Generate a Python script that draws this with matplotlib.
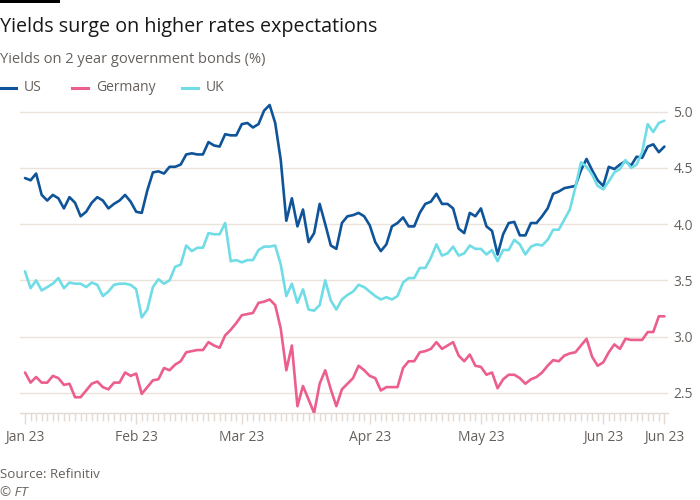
import matplotlib
matplotlib.use("Agg")
import matplotlib.pyplot as plt
from matplotlib.lines import Line2D
from matplotlib.patches import Rectangle
import numpy as np
import pandas as pd

plt.rcParams['font.family'] = ['Open Sans', 'DejaVu Sans']

# ---- data ----
holidays = ['2023-01-02', '2023-01-16', '2023-02-20', '2023-05-29']
dates = [d for d in pd.bdate_range('2023-01-03', '2023-06-16') if d.strftime('%Y-%m-%d') not in holidays]

us = [4.41, 4.39, 4.45, 4.26, 4.21, 4.26, 4.23, 4.14, 4.24, 4.19, 4.07, 4.11, 4.19, 4.24, 4.21, 4.14, 4.18, 4.21, 4.26, 4.20,
      4.11, 4.10, 4.30, 4.46, 4.47, 4.45, 4.51, 4.51, 4.53, 4.62, 4.63, 4.62, 4.62, 4.73, 4.70, 4.69, 4.80, 4.79, 4.79, 4.89,
      4.90, 4.86, 4.89, 5.01, 5.06, 4.90, 4.57, 4.03, 4.23, 3.98, 4.13, 3.84, 3.92, 4.18, 4.00, 3.81, 3.78, 4.01, 4.07, 4.08,
      4.10, 4.07, 3.99, 3.84, 3.76, 3.82, 3.98, 4.01, 4.06, 3.98, 3.98, 4.10, 4.18, 4.20, 4.27, 4.18, 4.18, 4.14, 3.96, 3.92,
      4.10, 4.07, 4.14, 3.98, 3.94, 3.73, 3.91, 4.01, 4.02, 3.90, 3.90, 4.01, 4.01, 4.07, 4.14, 4.27, 4.29, 4.32, 4.33, 4.34,
      4.48, 4.58, 4.48, 4.39, 4.34, 4.51, 4.49, 4.53, 4.56, 4.52, 4.60, 4.59, 4.69, 4.71, 4.64, 4.69]

germany = [2.68, 2.59, 2.64, 2.59, 2.59, 2.65, 2.63, 2.57, 2.58, 2.46, 2.46, 2.52, 2.58, 2.60, 2.55, 2.53, 2.59, 2.59, 2.68, 2.65,
           2.67, 2.49, 2.55, 2.61, 2.62, 2.72, 2.70, 2.75, 2.78, 2.86, 2.87, 2.88, 2.88, 2.95, 2.92, 2.90, 3.01, 3.06, 3.12, 3.19,
           3.20, 3.21, 3.30, 3.31, 3.33, 3.28, 3.07, 2.70, 2.92, 2.38, 2.56, 2.44, 2.32, 2.58, 2.70, 2.53, 2.38, 2.53, 2.58, 2.63,
           2.74, 2.70, 2.65, 2.63, 2.52, 2.55, 2.55, 2.55, 2.72, 2.78, 2.78, 2.86, 2.87, 2.89, 2.95, 2.89, 2.92, 2.95, 2.83, 2.78,
           2.84, 2.74, 2.73, 2.66, 2.68, 2.54, 2.62, 2.66, 2.66, 2.63, 2.58, 2.62, 2.64, 2.68, 2.74, 2.79, 2.78, 2.83, 2.85, 2.86,
           2.92, 2.98, 2.82, 2.74, 2.77, 2.86, 2.93, 2.89, 2.98, 2.97, 2.97, 2.97, 3.04, 3.04, 3.18, 3.18]

uk = [3.58, 3.43, 3.50, 3.41, 3.44, 3.47, 3.52, 3.43, 3.48, 3.47, 3.47, 3.44, 3.48, 3.46, 3.36, 3.40, 3.46, 3.47, 3.47, 3.46,
      3.42, 3.17, 3.24, 3.44, 3.51, 3.47, 3.50, 3.62, 3.64, 3.81, 3.76, 3.79, 3.79, 3.92, 3.91, 3.91, 4.01, 3.67, 3.68, 3.66,
      3.68, 3.68, 3.77, 3.80, 3.80, 3.81, 3.64, 3.36, 3.47, 3.30, 3.42, 3.24, 3.23, 3.28, 3.50, 3.32, 3.24, 3.33, 3.37, 3.40,
      3.46, 3.44, 3.40, 3.36, 3.33, 3.35, 3.33, 3.36, 3.48, 3.52, 3.52, 3.61, 3.61, 3.70, 3.82, 3.72, 3.74, 3.80, 3.72, 3.74,
      3.81, 3.78, 3.78, 3.73, 3.77, 3.67, 3.77, 3.77, 3.86, 3.82, 3.73, 3.80, 3.82, 3.81, 3.86, 3.95, 3.95, 4.04, 4.13, 4.33,
      4.55, 4.51, 4.44, 4.34, 4.31, 4.38, 4.46, 4.49, 4.57, 4.50, 4.53, 4.64, 4.89, 4.82, 4.90, 4.92]

series_names = ['US', 'Germany', 'UK']
series_values = [us, germany, uk]
series_colors = ['#0f5499', '#eb5e8d', '#70dce6']
y_ticks = [2.5, 3.0, 3.5, 4.0, 4.5, 5.0]

title = 'Yields surge on higher rates expectations'
subtitle = 'Yields on 2 year government bonds (%)'
source = 'Source: Refinitiv'
credit = '© FT'

# ---- figure ----
W, H = 700, 500
fig = plt.figure(figsize=(7, 5), dpi=100, facecolor='white')

def fy(px):
    return 1 - px / H

ax_left, ax_right = 20 / W, 668 / W
ax_bottom, ax_top = fy(413.3), fy(100.5)
ax = fig.add_axes([ax_left, ax_bottom, ax_right - ax_left, ax_top - ax_bottom])
ax.set_facecolor('white')

x = np.arange(len(dates))
for name, vals, col in zip(series_names, series_values, series_colors):
    ax.plot(x, vals, color=col, lw=1.9, solid_joinstyle='round', solid_capstyle='round', zorder=3)

ax.set_xlim(-0.9, len(dates) - 1 + 0.65)
ax.set_ylim(2.317, 5.1)

grid_col = '#ebe2da'
ax.set_yticks(y_ticks)
ax.set_yticklabels([f'{v:.1f}' for v in y_ticks])
ax.yaxis.tick_right()
ax.tick_params(axis='y', length=0, pad=4, labelsize=10, labelcolor='#66605c')
ax.grid(axis='y', color=grid_col, lw=1)
ax.set_axisbelow(True)

# x ticks: first trading day of each month + last point
month_idx = [i for i in range(len(dates)) if i == 0 or dates[i].month != dates[i - 1].month]
major_idx = month_idx + [len(dates) - 1]
ax.set_xticks(major_idx)
ax.set_xticklabels([dates[i].strftime('%b %y') for i in major_idx])
ax.set_xticks(x, minor=True)
ax.tick_params(axis='x', which='major', length=8, width=1, color='#e3dad2', pad=4,
               labelsize=10, labelcolor='#66605c')
ax.tick_params(axis='x', which='minor', length=5.5, width=1, color='#e3dad2')

for s in ['top', 'left', 'right']:
    ax.spines[s].set_visible(False)
ax.spines['bottom'].set_color('#e3dad2')
ax.spines['bottom'].set_linewidth(1)

# ---- texts ----
fig.add_artist(Rectangle((0, fy(3.3)), 60 / W, 3.3 / H, transform=fig.transFigure,
                         facecolor='black', edgecolor='none'))
fig.text(0, fy(31.7), title, fontsize=14.2, color='#1a1817', va='baseline', ha='left')
fig.text(0, fy(63.3), subtitle, fontsize=10.5, color='#66605c', va='baseline', ha='left')

leg_x = [0, 72, 182]
for lx, name, col in zip(leg_x, series_names, series_colors):
    fig.add_artist(Line2D([lx / W, (lx + 16) / W], [fy(88), fy(88)], color=col, lw=2.2,
                          transform=fig.transFigure))
    fig.text((lx + 24) / W, fy(88), name, fontsize=10, color='#66605c', va='center', ha='left')

fig.text(0, fy(475), source, fontsize=9.6, color='#66605c', va='center', ha='left')
fig.text(0, fy(492.5), credit, fontsize=9.6, color='#66605c', va='center', ha='left', style='italic')

fig.savefig('out.png', dpi=100, facecolor='white')
